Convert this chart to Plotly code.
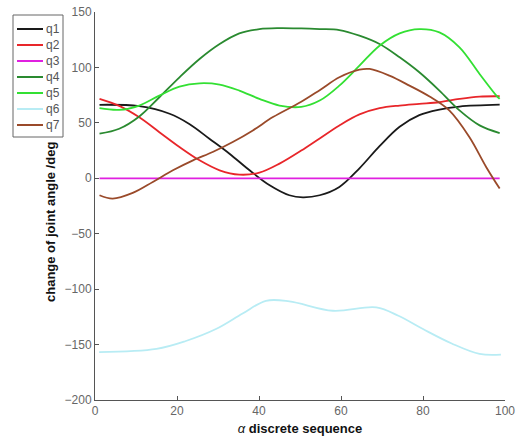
import plotly.graph_objects as go

# Points (x = discrete sequence, y = joint angle change in deg)
q1_x = [1.1, 10.8, 18.2, 23, 27.9, 32.8, 37.7, 42.6, 47.4, 50.7, 54.8, 59.6, 64.5, 69.4, 74.3, 79.1, 84, 88.9, 98.7]
q1_y = [66.3, 65, 58.2, 49, 35.7, 22.2, 7.2, -6.3, -15.3, -17.2, -15.3, -7.8, 9, 29, 46.5, 57, 62, 64.7, 66.4]

q2_x = [1.1, 5.9, 10.8, 15.7, 20.6, 25.5, 30.4, 35.2, 40.1, 45, 50.3, 54.8, 59.6, 64.5, 69.4, 74.3, 79.1, 84, 88.9, 93.8, 98.7]
q2_y = [71.7, 65.3, 55, 41.6, 28.2, 16.2, 7.2, 3.3, 5.1, 13.2, 25, 36, 47.7, 57.6, 63.2, 65.6, 67.1, 68.6, 71.6, 73.7, 74]

q3_x = [1.1, 98.7]
q3_y = [0, 0]

q4_x = [1.1, 5.9, 10.8, 15.7, 20.6, 25.5, 30.4, 35.2, 40.1, 45, 50.3, 54.8, 59.6, 64.5, 69.4, 74.3, 79.1, 84, 88.9, 93.8, 98.7]
q4_y = [40.2, 44.7, 55.8, 73.1, 91.1, 107.6, 121.1, 130.7, 134.6, 135.5, 135.2, 134.6, 133.7, 128.6, 121.1, 109.1, 95.6, 79.1, 61.2, 47.7, 40.8]

q5_x = [1.1, 5.9, 10.8, 15.7, 20.6, 25.5, 30.4, 35.2, 40.1, 45, 50.3, 54.8, 59.6, 64.5, 69.4, 74.3, 79.1, 84, 88.9, 93.8, 97.9, 98.7]
q5_y = [63.2, 61.7, 65.6, 74.6, 82.7, 85.7, 84.5, 79.1, 71.6, 65.6, 64.4, 70.1, 83.6, 101.6, 119.6, 130.7, 134.6, 131.6, 118.1, 94.1, 74.6, 71.6]

q6_x = [1, 15, 22, 29.5, 36, 41.7, 47.4, 58, 68.6, 74, 80, 87, 93.8, 99]
q6_y = [-156.9, -153.9, -147, -136, -122, -110.5, -111, -119.5, -116.5, -124, -136, -149, -158.4, -159]

q7_x = [1.1, 4.3, 9.2, 14.1, 19, 23.9, 28.7, 33.6, 38.5, 43.4, 50.3, 54.8, 59.6, 64.5, 67, 71.8, 76.7, 81.6, 86.4, 91.3, 95.4, 98.7]
q7_y = [-15.3, -18.3, -13.2, -3.3, 7.2, 16.2, 23.7, 32.7, 43.2, 55.2, 69, 79.5, 91.1, 98, 98.6, 92.6, 83.6, 73.7, 61.2, 37.2, 10.2, -9.3]

names = ["q1", "q2", "q3", "q4", "q5", "q6", "q7"]
colors = ["#1a1a1a", "#e8262a", "#e020e0", "#2a8a30", "#33e033", "#b8ecf4", "#9a4a2a"]
series = [(q1_x, q1_y), (q2_x, q2_y), (q3_x, q3_y), (q4_x, q4_y),
          (q5_x, q5_y), (q6_x, q6_y), (q7_x, q7_y)]

x_ticks = [0, 20, 40, 60, 80, 100]
y_ticks = [-200, -150, -100, -50, 0, 50, 100, 150]

W, H = 522, 447
L, R, T, B = 95, 17, 12, 47
PW, PH = W - L - R, H - T - B


def px_x(px):
    return (px - L) / PW


def px_y(py):
    return (H - B - py) / PH


fig = go.Figure()
for name, color, (xs, ys) in zip(names, colors, series):
    fig.add_trace(go.Scatter(
        x=xs, y=ys, name=name, mode="lines", showlegend=False,
        line=dict(color=color, width=1.8, shape="spline", smoothing=1.0),
    ))

font_family = "Liberation Sans, Arial, sans-serif"

# Manual legend box (MATLAB style)
shapes = [dict(type="rect", xref="paper", yref="paper",
               x0=px_x(13), x1=px_x(63), y0=px_y(137), y1=px_y(15),
               line=dict(color="#666666", width=1), fillcolor="white", layer="above")]
annotations = []
for i, (name, color) in enumerate(zip(names, colors)):
    cy = 29 + 16 * i
    shapes.append(dict(type="line", xref="paper", yref="paper",
                       x0=px_x(17), x1=px_x(43), y0=px_y(cy), y1=px_y(cy),
                       line=dict(color=color, width=2), layer="above"))
    annotations.append(dict(xref="paper", yref="paper", x=px_x(44), y=px_y(cy),
                            xanchor="left", yanchor="middle", text=name, showarrow=False,
                            font=dict(size=12, color="#555555", family=font_family)))

annotations.append(dict(xref="paper", yref="paper", x=px_x(50), y=px_y(222),
                        xanchor="center", yanchor="middle", textangle=-90,
                        text="<b>change of joint angle /deg</b>", showarrow=False,
                        font=dict(size=13, color="#111111", family=font_family)))

fig.update_layout(
    width=W, height=H,
    margin=dict(l=L, r=R, t=T, b=B, autoexpand=False),
    paper_bgcolor="white", plot_bgcolor="white",
    font=dict(family=font_family, size=12, color="#666666"),
    showlegend=False,
    shapes=shapes,
    annotations=annotations,
    xaxis=dict(
        range=[0, 100], tickvals=x_ticks, ticks="inside", ticklen=4,
        tickcolor="#555555", showline=True, linecolor="#555555", linewidth=1,
        showgrid=False, zeroline=False, automargin=False,
        title=dict(text="<i>α</i> <b>discrete sequence</b>",
                   font=dict(size=13, color="#111111", family=font_family), standoff=6),
    ),
    yaxis=dict(
        range=[-200, 150], tickvals=y_ticks, ticks="inside", ticklen=4,
        tickcolor="#555555", showline=True, linecolor="#555555", linewidth=1,
        showgrid=False, zeroline=False, automargin=False,
    ),
)

fig.write_html("out.html")
